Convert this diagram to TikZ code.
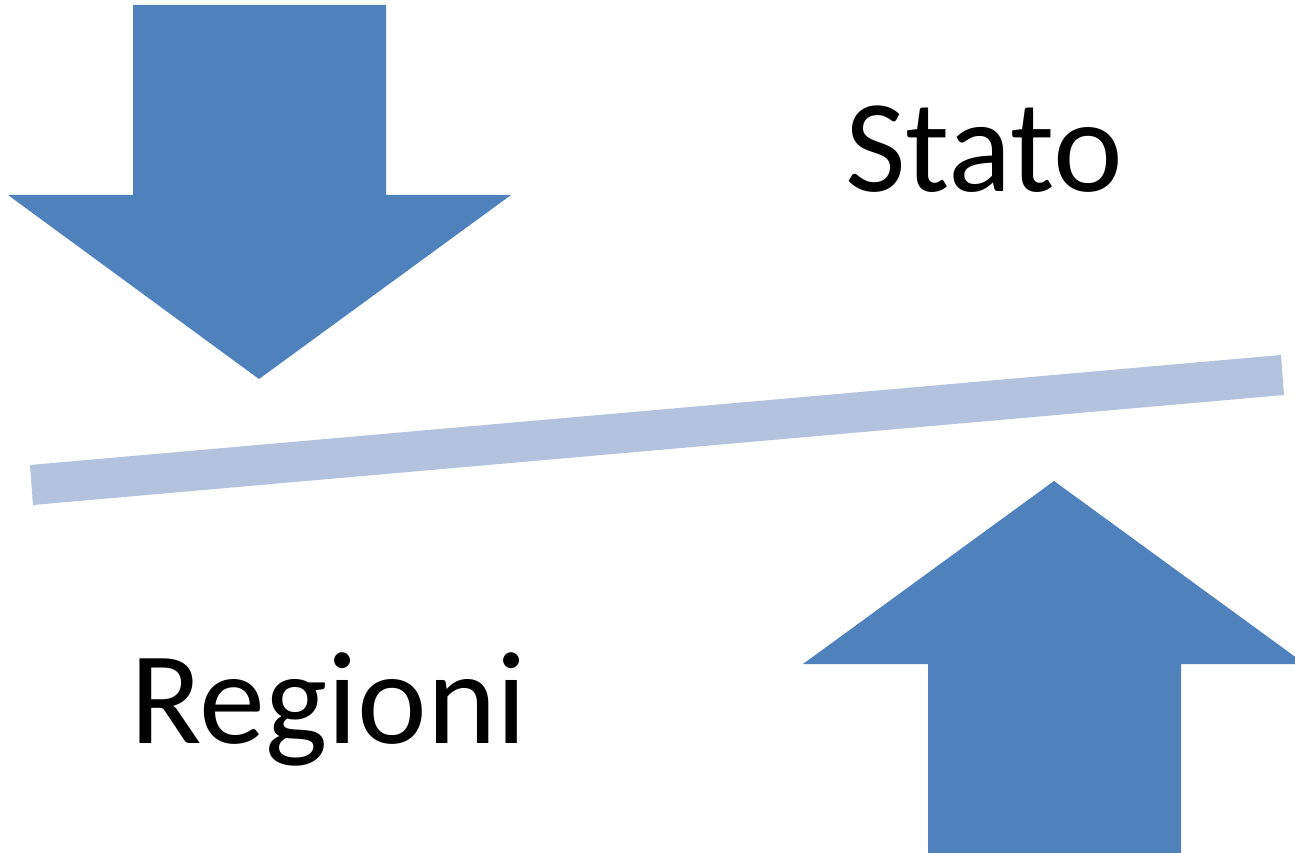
\documentclass[tikz,border=0pt]{standalone}
\usepackage{fontspec}
\setmainfont{Carlito}
\definecolor{arrowblue}{HTML}{4F81BD}
\definecolor{barblue}{HTML}{B3C2DD}
\begin{document}
\begin{tikzpicture}[x=1pt,y=-1pt,
  bigarrow/.style={fill=arrowblue,draw=none},
  label/.style={inner sep=0pt,anchor=base west,font=\fontsize{132}{140}\selectfont}]
\useasboundingbox (0,0) rectangle (1295,853);
\fill[white] (0,0) rectangle (1295,853);
% down arrow
\path[bigarrow] (133,5) -- (386,5) -- (386,195) -- (511,195) -- (259,379) -- (8,195) -- (133,195) -- cycle;
% bar
\fill[barblue] (30,465) -- (1281,355) -- (1284,395) -- (33,505) -- cycle;
% up arrow
\path[bigarrow] (928,853) -- (928,664) -- (803,664) -- (1054,481) -- (1305,664) -- (1181,664) -- (1181,853) -- cycle;
\node[label] (stato) at (845,192) {Stato};
\node[label] (regioni) at (130,743) {Regioni};
\end{tikzpicture}
\end{document}
